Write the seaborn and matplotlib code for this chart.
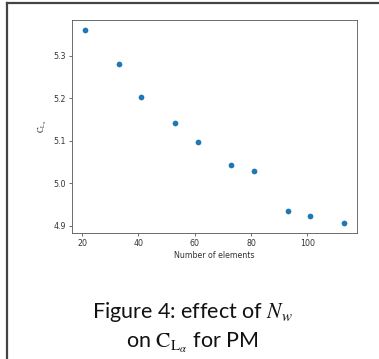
import numpy as np
import pandas as pd
import matplotlib
matplotlib.use("Agg")
import matplotlib.pyplot as plt
import seaborn as sns
from matplotlib.lines import Line2D

# values
n_elements = [21, 33, 41, 53, 61, 73, 81, 93, 101, 113]
cl_alpha = [5.361, 5.281, 5.204, 5.143, 5.098, 5.044, 5.029, 4.936, 4.924, 4.906]

df = pd.DataFrame({'Number of elements': n_elements, 'CLa': cl_alpha})

plt.rcParams['mathtext.fontset'] = 'stix'

fig = plt.figure(figsize=(3.79, 3.59), dpi=100)
ax = fig.add_axes([0.19, 0.351, 0.752, 0.593])

sns.scatterplot(data=df, x='Number of elements', y='CLa', ax=ax,
                color='#1f77b4', s=17, linewidth=0)

ax.set_xticks([20, 40, 60, 80, 100])
ax.set_yticks([4.9, 5.0, 5.1, 5.2, 5.3])
ax.tick_params(labelsize=5.7, length=2.5, width=0.5, pad=2, colors='#333333')
ax.set_xlabel('Number of elements', fontsize=5.7, labelpad=2, color='#333333')
ax.set_ylabel(r'$\mathrm{C}_{\mathrm{L}_\alpha}$', fontsize=6, labelpad=3, color='#333333')
for sp in ax.spines.values():
    sp.set_linewidth(0.6)
    sp.set_color('#555555')

# caption below the plot
fig.text(0.507, 0.115, r'Figure 4: effect of $N_w$', ha='center', va='baseline',
         fontsize=15.5, family='Lato', color='#111111')
fig.text(0.507, 0.03, r'on $\mathrm{C}_{\mathrm{L}_\alpha}$ for PM', ha='center', va='baseline',
         fontsize=15.5, family='Lato', color='#111111')

# frame lines on the left and top
fig.add_artist(Line2D([0.018, 0.018], [0, 0.991], transform=fig.transFigure,
                      color='#444444', linewidth=1.6))
fig.add_artist(Line2D([0.018, 1], [0.991, 0.991], transform=fig.transFigure,
                      color='#444444', linewidth=1.6))

fig.savefig('out.png', dpi=100)
